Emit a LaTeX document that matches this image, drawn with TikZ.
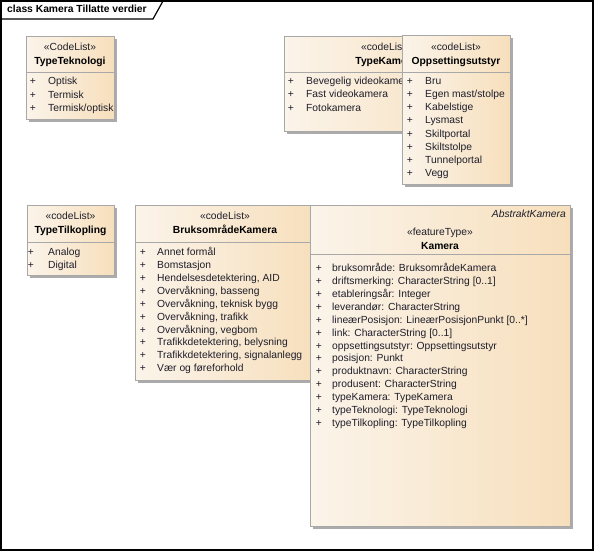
\documentclass[tikz,border=0pt]{standalone}
\usepackage{fontspec}
\setmainfont{Liberation Sans}
\usepackage{xcolor}
\usepackage{tikz}
\usetikzlibrary{positioning}

\definecolor{boxleft}{HTML}{FBF4EA}
\definecolor{boxright}{HTML}{F7DFBC}
\definecolor{boxline}{HTML}{A8A8A8}
\definecolor{boxshadow}{HTML}{ABABAB}
\definecolor{itemtext}{HTML}{1E1E2A}

\newcommand{\umlclass}[5]{%
  \fill[boxshadow] (#1+3,#2+3) rectangle (#3+3,#4+3);
  \shade[left color=boxleft, right color=boxright] (#1,#2) rectangle (#3,#4);
  \draw[boxline] (#1,#2) rectangle (#3,#4);
  \draw[boxline] (#1,#5) -- (#3,#5);
}

\begin{document}
\begin{tikzpicture}[x=1pt, y=-1pt,
    font=\fontsize{10.3}{12}\selectfont, text=itemtext,
    stereo/.style={inner sep=0pt, anchor=mid},
    title/.style={inner sep=0pt, anchor=mid, font=\fontsize{10.3}{12}\selectfont\bfseries, text=black},
    plus/.style={inner sep=0pt, anchor=mid},
    item/.style={inner sep=0pt, anchor=mid west}]
  \useasboundingbox (0,0) rectangle (595,552);

  \draw[line width=1.2pt] (1,1) rectangle (593,550);
  \draw[line width=1.2pt] (1,19) -- (153,19) -- (163,1);
  \node[title, anchor=mid west] (frame) at (7,10) {class Kamera Tillatte verdier};

  \umlclass{26}{36}{114}{119}{72}
  \node[stereo] (tek-st) at (70,48) {«CodeList»};
  \node[title] (tek) at (70,62) {TypeTeknologi};
  \foreach \t [count=\i from 0] in {Optisk, Termisk, Termisk/optisk} {
    \node[plus] at (33,82+13.5*\i) {+};
    \node[item] (tek-\i) at (48,82+13.5*\i) {\t};
  }

  \umlclass{284}{36}{488}{131}{72}
  \begin{scope}
    \clip (284,30) rectangle (402,140);
    \node[stereo] (kam-st) at (386,48) {«codeList»};
    \node[title] (kam) at (386,62) {TypeKamera};
    \foreach \t [count=\i from 0] in {Bevegelig videokamera, Fast videokamera, Fotokamera} {
      \node[plus] at (291,82+13.3*\i) {+};
      \node[item] (kam-\i) at (306,82+13.3*\i) {\t};
    }
  \end{scope}

  \umlclass{402}{35}{510}{184}{72}
  \node[stereo] (opp-st) at (456,48) {«codeList»};
  \node[title] (opp) at (456,62) {Oppsettingsutstyr};
  \foreach \t [count=\i from 0] in {Bru, Egen mast/stolpe, Kabelstige, Lysmast, Skiltportal, Skiltstolpe, Tunnelportal, Vegg} {
    \node[plus] at (410,82+13.1*\i) {+};
    \node[item] (opp-\i) at (425,82+13.1*\i) {\t};
  }

  \umlclass{27}{205}{114}{275}{242}
  \node[stereo] (til-st) at (70.5,217) {«codeList»};
  \node[title] (til) at (70.5,231) {TypeTilkopling};
  \foreach \t [count=\i from 0] in {Analog, Digital} {
    \node[plus] at (31,253+13*\i) {+};
    \node[item] (til-\i) at (48,253+13*\i) {\t};
  }

  \umlclass{135}{205}{315}{380}{242}
  \node[stereo] (bru-st) at (225,217) {«codeList»};
  \node[title] (bru) at (225,231) {BruksområdeKamera};
  \foreach \t [count=\i from 0] in {Annet formål, Bomstasjon, {Hendelsesdetektering, AID}, {Overvåkning, basseng}, {Overvåkning, teknisk bygg}, {Overvåkning, trafikk}, {Overvåkning, vegbom}, {Trafikkdetektering, belysning}, {Trafikkdetektering, signalanlegg}, Vær og føreforhold} {
    \node[plus] at (143,253+12.9*\i) {+};
    \node[item] (bru-\i) at (157,253+12.9*\i) {\t};
  }

  \umlclass{310}{205}{570}{526}{254}
  \node[stereo, anchor=mid east, font=\fontsize{10.3}{12}\selectfont\itshape] (abs) at (566,215) {AbstraktKamera};
  \node[stereo] (ft-st) at (440,233) {«featureType»};
  \node[title] (ft) at (440,247) {Kamera};
  \foreach \t [count=\i from 0] in {bruksområde: BruksområdeKamera, driftsmerking: CharacterString [0..1], etableringsår: Integer, leverandør: CharacterString, lineærPosisjon: LineærPosisjonPunkt [0..*], link: CharacterString [0..1], oppsettingsutstyr: Oppsettingsutstyr, posisjon: Punkt, produktnavn: CharacterString, produsent: CharacterString, typeKamera: TypeKamera, typeTeknologi: TypeTeknologi, typeTilkopling: TypeTilkopling} {
    \node[plus] at (319,269+12.9*\i) {+};
    \node[item] (ft-\i) at (332,269+12.9*\i) {\t};
  }
\end{tikzpicture}
\end{document}
